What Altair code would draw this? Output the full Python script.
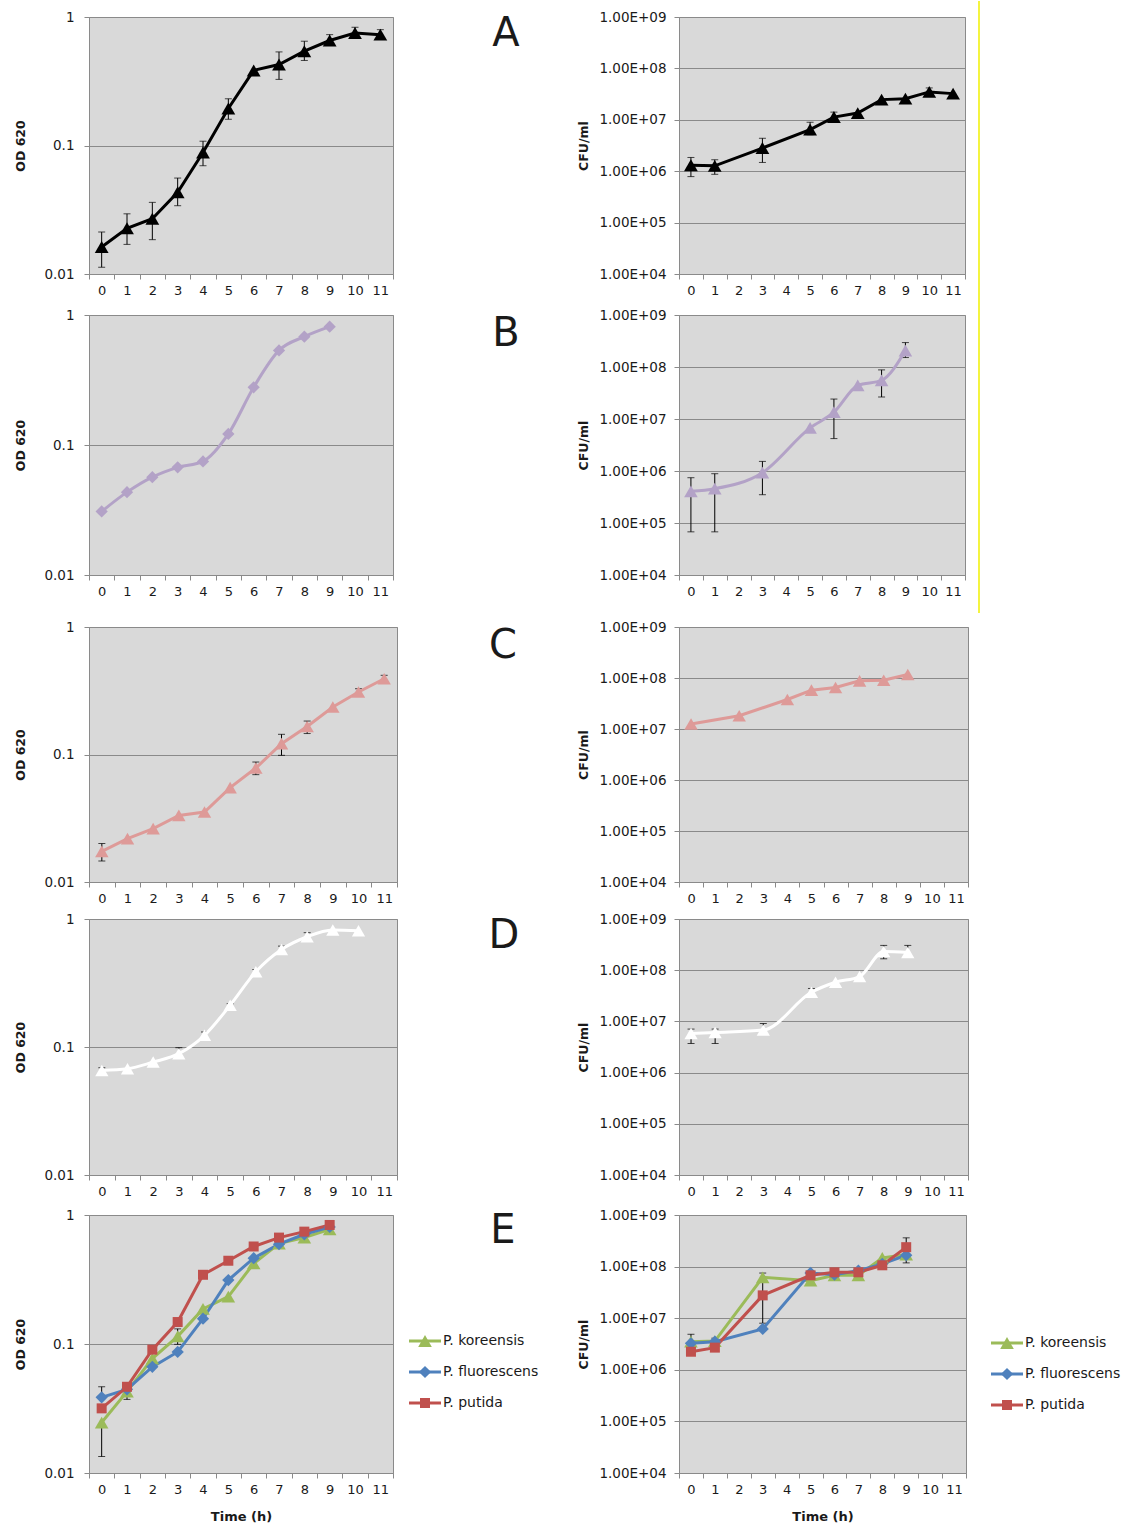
import altair as alt
import pandas as pd

FONT = "DejaVu Sans"
INK = "#1a1a1a"
FRAME = "#8a8a8a"
PLOT_BG = "#d9d9d9"

HOURS = list(range(12))

# ---------------- A ----------------
A_OD_T = list(range(12))
A_OD = [0.0162, 0.0227, 0.0269, 0.0432, 0.0883, 0.194, 0.384, 0.427, 0.542, 0.656, 0.751, 0.729]
A_OD_LO = [0.0113, 0.0170, 0.0185, 0.0340, 0.0696, 0.160, None, 0.327, 0.459, 0.610, 0.708, 0.679]
A_OD_HI = [0.0212, 0.0294, 0.0361, 0.0558, 0.108, 0.231, None, 0.535, 0.648, 0.729, 0.832, 0.797]

A_CFU_T = [0, 1, 3, 5, 6, 7, 8, 9, 10, 11]
A_CFU = [1.31e6, 1.27e6, 2.82e6, 6.46e6, 1.13e7, 1.35e7, 2.47e7, 2.58e7, 3.49e7, 3.23e7]
A_CFU_LO = [7.85e5, 8.7e5, 1.48e6, 5.1e6, 1.0e7, None, None, None, 3.1e7, None]
A_CFU_HI = [1.85e6, 1.67e6, 4.37e6, 9.0e6, 1.41e7, None, None, None, 4.17e7, None]

# ---------------- B ----------------
B_OD_T = list(range(10))
B_OD = [0.0308, 0.0434, 0.0566, 0.0673, 0.0748, 0.1216, 0.278, 0.534, 0.681, 0.813]

B_CFU_T = [0, 1, 3, 5, 6, 7, 8, 9]
B_CFU = [4.06e5, 4.57e5, 9.27e5, 6.75e6, 1.35e7, 4.43e7, 5.52e7, 2.07e8]
B_CFU_LO = [6.76e4, 6.76e4, 3.5e5, None, 4.2e6, None, 2.65e7, 1.52e8]
B_CFU_HI = [7.43e5, 8.87e5, 1.53e6, None, 2.42e7, None, 8.8e7, 2.95e8]

# ---------------- C ----------------
C_OD_T = list(range(12))
C_OD = [0.0174, 0.0219, 0.0262, 0.0333, 0.0354, 0.055, 0.0783, 0.1216, 0.166, 0.236, 0.309, 0.393]
C_OD_LO = [0.0146, None, None, None, None, None, 0.0695, 0.0985, 0.146, None, None, None]
C_OD_HI = [0.0200, None, None, None, None, None, 0.0873, 0.144, 0.183, None, 0.328, 0.418]

C_CFU_T = [0, 2, 4, 5, 6, 7, 8, 9]
C_CFU = [1.25e7, 1.82e7, 3.79e7, 5.77e7, 6.51e7, 8.8e7, 9.06e7, 1.17e8]

# ---------------- D ----------------
D_OD_T = list(range(11))
D_OD = [0.0656, 0.0676, 0.0763, 0.0887, 0.1234, 0.212, 0.387, 0.578, 0.727, 0.820, 0.810]
D_OD_HI = [0.0689, None, None, 0.0988, 0.131, 0.218, 0.403, 0.614, 0.782, None, None]

D_CFU_T = [0, 1, 3, 5, 6, 7, 8, 9]
D_CFU = [5.82e6, 6.08e6, 6.76e6, 3.71e7, 5.82e7, 7.52e7, 2.32e8, 2.22e8]
D_CFU_LO = [3.7e6, 3.7e6, None, None, None, None, 1.67e8, None]
D_CFU_HI = [7.08e6, 7.08e6, 9.1e6, 4.4e7, None, None, 3.05e8, 3.05e8]

# ---------------- E (three species) ----------------
SPECIES = ["P. koreensis", "P. fluorescens", "P. putida"]
SPECIES_COLORS = ["#9bbb59", "#4f81bd", "#c0504d"]
SPECIES_SHAPES = ["triangle-up", "diamond", "square"]
SPECIES_SIZES = [185, 150, 100]

E_OD_T = list(range(10))
E_OD_KOR = [0.0246, 0.0427, 0.077, 0.1146, 0.187, 0.233, 0.421, 0.601, 0.668, 0.775]
E_OD_KOR_LO = [0.0134, None, None, 0.0994, None, None, None, None, None, None]
E_OD_KOR_HI = [None, None, None, 0.131, None, None, None, None, None, None]
E_OD_FLU = [0.0386, 0.0445, 0.0665, 0.0868, 0.157, 0.313, 0.463, 0.594, 0.709, 0.808]
E_OD_FLU_LO = [None, 0.0372, None, None, None, None, None, None, None, None]
E_OD_FLU_HI = [0.0466, None, None, None, None, None, None, None, None, None]
E_OD_PUT = [0.0317, 0.0466, 0.0904, 0.148, 0.344, 0.442, 0.570, 0.668, 0.743, 0.837]

E_CFU_T = [0, 1, 3, 5, 6, 7, 8, 9]
E_CFU_KOR = [3.51e6, 3.61e6, 6.19e7, 5.33e7, 6.78e7, 6.78e7, 1.47e8, 1.71e8]
E_CFU_KOR_LO = [None, None, 8.0e6, None, None, None, None, None]
E_CFU_KOR_HI = [4.88e6, 4.1e6, 7.5e7, None, None, None, None, None]
E_CFU_FLU = [3.26e6, 3.51e6, 6.19e6, 7.53e7, 6.98e7, 8.36e7, 1.13e8, 1.66e8]
E_CFU_PUT = [2.24e6, 2.69e6, 2.77e7, 6.78e7, 7.76e7, 7.76e7, 1.06e8, 2.38e8]
E_CFU_PUT_LO = [None, None, None, None, None, None, None, 1.18e8]
E_CFU_PUT_HI = [None, None, None, None, None, None, None, 3.61e8]

LETTERS = ["A", "B", "C", "D", "E"]


def series_frame(name, t, v, lo=None, hi=None):
    n = len(t)
    return pd.DataFrame({
        "series": name,
        "t": t,
        "v": v,
        "lo": lo if lo else [None] * n,
        "hi": hi if hi else [None] * n,
    })


def style_encodings(styles):
    names = [s[0] for s in styles]
    color = alt.Color("series:N", scale=alt.Scale(domain=names, range=[s[1] for s in styles]), legend=None)
    shape = alt.Shape("series:N", scale=alt.Scale(domain=names, range=[s[2] for s in styles]), legend=None)
    size = alt.Size("series:N", scale=alt.Scale(type="ordinal", domain=names, range=[s[3] for s in styles]),
                    legend=None)
    return color, shape, size


def panel(frames, styles, kind, width, height, interpolate="linear", xtitle=None):
    df = pd.concat(frames, ignore_index=True)
    df["lo"] = pd.to_numeric(df["lo"])
    df["hi"] = pd.to_numeric(df["hi"])

    color, shape, size = style_encodings(styles)

    x_kw = dict(
        tickBand="extent", labelAngle=0, grid=False,
        domainColor=FRAME, tickColor=FRAME, tickSize=5,
        labelFont=FONT, labelFontSize=13, labelColor=INK, labelPadding=5,
        titleFont=FONT, titleFontSize=13, titleFontWeight="bold", titleColor=INK,
        titlePadding=14,
    )
    if xtitle:
        x_axis = alt.Axis(title=xtitle, **x_kw)
    else:
        x_axis = alt.Axis(title=None, **x_kw)
    x = alt.X("t:O", scale=alt.Scale(type="band", domain=HOURS, paddingInner=0, paddingOuter=0), axis=x_axis)

    y_kw = dict(
        grid=True, gridColor=FRAME, gridWidth=1,
        domainColor=FRAME, tickColor=FRAME, tickSize=5,
        labelFont=FONT, labelFontSize=13.5, labelColor=INK,
        titleFont=FONT, titleFontSize=12.5, titleFontWeight="bold", titleColor=INK,
        titleBaseline="middle",
    )
    if kind == "od":
        y_scale = alt.Scale(type="log", domain=[0.01, 1])
        y_axis = alt.Axis(values=[0.01, 0.1, 1], format="~g", title="OD 620",
                          titleX=-69, labelPadding=10, **y_kw)
    else:
        y_scale = alt.Scale(type="log", domain=[1e4, 1e9])
        y_axis = alt.Axis(values=[1e4, 1e5, 1e6, 1e7, 1e8, 1e9],
                          labelExpr="'1.00E+0' + round(log(datum.value) / LN10)",
                          title="CFU/ml", titleX=-96, labelPadding=8, **y_kw)

    layers = []
    err = df[df["lo"].notna() | df["hi"].notna()].copy()
    if len(err):
        err["elo"] = err["lo"].fillna(err["v"])
        err["ehi"] = err["hi"].fillna(err["v"])
        layers.append(
            alt.Chart(err).mark_rule(color="black", strokeWidth=1).encode(
                x=x, y=alt.Y("elo:Q", scale=y_scale, axis=y_axis), y2="ehi:Q"
            )
        )
        caps = err.melt(id_vars=["series", "t"], value_vars=["lo", "hi"], value_name="cap").dropna(subset=["cap"])
        layers.append(
            alt.Chart(caps).mark_tick(color="black", orient="horizontal", size=7, thickness=1).encode(
                x=x, y=alt.Y("cap:Q", scale=y_scale, axis=y_axis)
            )
        )
    layers.append(
        alt.Chart(df).mark_line(strokeWidth=3, interpolate=interpolate).encode(
            x=x, y=alt.Y("v:Q", scale=y_scale, axis=y_axis), color=color
        )
    )
    layers.append(
        alt.Chart(df).mark_point(filled=True, opacity=1, strokeWidth=0).encode(
            x=x, y=alt.Y("v:Q", scale=y_scale, axis=y_axis), color=color, shape=shape, size=size
        )
    )
    return alt.layer(*layers).properties(
        width=width, height=height,
        view=alt.ViewBackground(fill=PLOT_BG, stroke=FRAME, strokeWidth=1),
    )


def legend_layers(x0, y_top, y_bottom):
    leg = pd.DataFrame({"series": SPECIES})
    y = alt.Y("series:N", scale=alt.Scale(type="point", domain=SPECIES, range=[y_top, y_bottom], padding=0), axis=None)
    color, shape, size = style_encodings(list(zip(SPECIES, SPECIES_COLORS, SPECIES_SHAPES, SPECIES_SIZES)))
    return [
        alt.Chart(leg).mark_rule(strokeWidth=3).encode(
            x=alt.value(x0), x2=alt.value(x0 + 32), y=y, color=color),
        alt.Chart(leg).mark_point(filled=True, opacity=1, strokeWidth=0).encode(
            x=alt.value(x0 + 16), y=y, color=color, shape=shape, size=size),
        alt.Chart(leg).mark_text(font=FONT, fontSize=14, color=INK, align="left", baseline="middle").encode(
            x=alt.value(x0 + 34), y=y, text="series:N"),
    ]


def letter_cell(letter, lx, ly, width, height, legend_at=None):
    layers = [
        alt.Chart(pd.DataFrame({"letter": [letter]})).mark_text(
            font=FONT, fontSize=40, color=INK, align="center", baseline="middle"
        ).encode(text="letter:N", x=alt.value(lx), y=alt.value(ly))
    ]
    if legend_at is not None:
        layers += legend_layers(*legend_at)
    return alt.layer(*layers).properties(width=width, height=height)


def blank(width, height):
    return alt.Chart(pd.DataFrame({"v": [0]})).mark_point(opacity=0).encode(
        x=alt.value(0), y=alt.value(0)
    ).properties(width=width, height=height)


BLACK = [("A", "#000000", "triangle-up", 190)]
PURPLE_D = [("B", "#b3a2c7", "diamond", 150)]
PURPLE_T = [("B", "#b3a2c7", "triangle-up", 185)]
PINK = [("C", "#de9a98", "triangle-up", 180)]
WHITE = [("D", "#ffffff", "triangle-up", 175)]
THREE = list(zip(SPECIES, SPECIES_COLORS, SPECIES_SHAPES, SPECIES_SIZES))

MID_W = 282
SIDE_W = 150

cells = [
    # row A
    panel([series_frame("A", A_OD_T, A_OD, A_OD_LO, A_OD_HI)], BLACK, "od", 304, 257),
    letter_cell(LETTERS[0], 109, 17, MID_W, 261),
    panel([series_frame("A", A_CFU_T, A_CFU, A_CFU_LO, A_CFU_HI)], BLACK, "cfu", 286, 257),
    alt.Chart(pd.DataFrame({"v": [0]})).mark_rule(color="#f0f000", strokeWidth=1.5).encode(
        x=alt.value(11), y=alt.value(-16), y2=alt.value(596)
    ).properties(width=SIDE_W, height=257),
    # row B
    panel([series_frame("B", B_OD_T, B_OD)], PURPLE_D, "od", 304, 260, interpolate="monotone"),
    letter_cell(LETTERS[1], 109, 19, MID_W, 275),
    panel([series_frame("B", B_CFU_T, B_CFU, B_CFU_LO, B_CFU_HI)], PURPLE_T, "cfu", 286, 260,
          interpolate="monotone"),
    blank(SIDE_W, 10),
    # row C
    panel([series_frame("C", C_OD_T, C_OD, C_OD_LO, C_OD_HI)], PINK, "od", 308, 255),
    letter_cell(LETTERS[2], 106, 19, MID_W, 255),
    panel([series_frame("C", C_CFU_T, C_CFU)], PINK, "cfu", 289, 255),
    blank(SIDE_W, 10),
    # row D
    panel([series_frame("D", D_OD_T, D_OD, None, D_OD_HI)], WHITE, "od", 308, 256, interpolate="monotone"),
    letter_cell(LETTERS[3], 107, 17, MID_W, 259),
    panel([series_frame("D", D_CFU_T, D_CFU, D_CFU_LO, D_CFU_HI)], WHITE, "cfu", 289, 256,
          interpolate="monotone"),
    blank(SIDE_W, 10),
    # row E
    panel([
        series_frame(SPECIES[0], E_OD_T, E_OD_KOR, E_OD_KOR_LO, E_OD_KOR_HI),
        series_frame(SPECIES[1], E_OD_T, E_OD_FLU, E_OD_FLU_LO, E_OD_FLU_HI),
        series_frame(SPECIES[2], E_OD_T, E_OD_PUT),
    ], THREE, "od", 304, 258, xtitle="Time (h)"),
    letter_cell(LETTERS[4], 106, 16, MID_W, 258, legend_at=(12, 126, 188)),
    panel([
        series_frame(SPECIES[0], E_CFU_T, E_CFU_KOR, E_CFU_KOR_LO, E_CFU_KOR_HI),
        series_frame(SPECIES[1], E_CFU_T, E_CFU_FLU),
        series_frame(SPECIES[2], E_CFU_T, E_CFU_PUT, E_CFU_PUT_LO, E_CFU_PUT_HI),
    ], THREE, "cfu", 287, 258, xtitle="Time (h)"),
    alt.layer(*legend_layers(23, 128, 190)).properties(width=SIDE_W, height=258),
]

chart = alt.concat(
    *cells, columns=4, spacing={"row": 37, "column": 0}, bounds="flush"
).resolve_scale(
    color="independent", shape="independent", size="independent"
).properties(
    padding={"left": 13, "top": 0, "right": 0, "bottom": 0},
    background="white",
).configure_view(stroke=None)

chart.save("out.html", embed_options={"renderer": "svg", "actions": False})
